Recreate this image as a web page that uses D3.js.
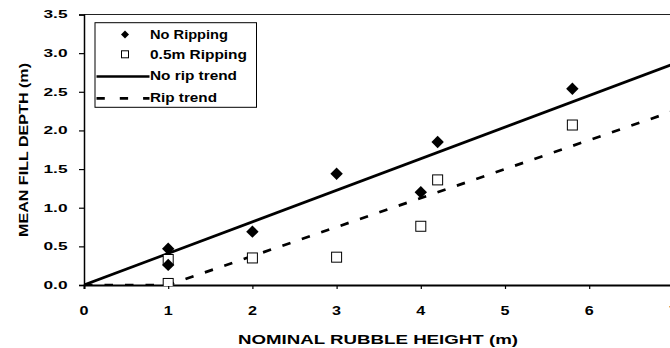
<!DOCTYPE html>
<html><head><meta charset="utf-8">
<script src="https://cdn.jsdelivr.net/npm/d3@7"></script>
<style>
html,body{margin:0;padding:0;background:#fff;}
text{font-family:"Liberation Sans",Arial,sans-serif;font-weight:bold;fill:#000;}
</style></head>
<body><svg id="c" width="670" height="348"></svg>
<script>
// ---- data ----
const xNoRipping = [1, 1, 2, 3, 4, 4.2, 5.8];
const yNoRipping = [0.47, 0.26, 0.69, 1.44, 1.20, 1.85, 2.54];
const xRipping = [1, 1, 2, 3, 4, 4.2, 5.8];
const yRipping = [0.33, 0.02, 0.35, 0.36, 0.76, 1.36, 2.07];
const xNoRipTrend = [0, 7];
const yNoRipTrend = [0, 2.86];
const xRipTrend = [0, 1, 7];
const yRipTrend = [0, 0, 2.25];
const xTicks = [0, 1, 2, 3, 4, 5, 6, 7];
const yTicks = [0, 0.5, 1.0, 1.5, 2.0, 2.5, 3.0, 3.5];
const legendLabels = ["No Ripping", "0.5m Ripping", "No rip trend", "Rip trend"];
const xTitle = "NOMINAL RUBBLE HEIGHT (m)";
const yTitle = "MEAN FILL DEPTH (m)";

const svg = d3.select("#c");
const x = d3.scaleLinear().domain([0, 7]).range([84, 673.4]);
const y = d3.scaleLinear().domain([0, 3.5]).range([285, 14.5]);

// plot border (top)
svg.append("line").attr("x1", 84).attr("x2", 670).attr("y1", 14.5).attr("y2", 14.5)
  .attr("stroke", "#222").attr("stroke-width", 1.2);

// clip
svg.append("clipPath").attr("id", "pc").append("rect")
  .attr("x", 84).attr("y", 14).attr("width", 600).attr("height", 272);

// y axis
const ya = svg.append("g").attr("transform", "translate(84,0)")
  .call(d3.axisLeft(y).tickValues(yTicks).tickSize(5).tickFormat(""));
ya.select(".domain").attr("stroke", "#000").attr("stroke-width", 1.5);
ya.selectAll(".tick line").attr("stroke", "#000").attr("stroke-width", 1.2);
svg.append("g").selectAll("text").data(yTicks).join("text")
  .attr("x", 67.5).attr("y", d => y(d)).attr("dy", "0.36em")
  .attr("text-anchor", "end").attr("font-size", 11)
  .attr("textLength", 24).attr("lengthAdjust", "spacingAndGlyphs")
  .text(d => d3.format(".1f")(d));

// x axis
const xa = svg.append("g").attr("transform", "translate(0,285)")
  .call(d3.axisBottom(x).tickValues(xTicks).tickSize(4).tickFormat(""));
xa.select(".domain").attr("stroke", "#000").attr("stroke-width", 2);
xa.selectAll(".tick line").attr("stroke", "#000").attr("stroke-width", 1.2);
svg.append("g").selectAll("text").data(xTicks).join("text")
  .attr("x", d => x(d)).attr("y", 314.5)
  .attr("text-anchor", "middle").attr("font-size", 13.5)
  .attr("textLength", 9).attr("lengthAdjust", "spacingAndGlyphs")
  .text(d => d);

// titles
svg.append("text").attr("x", 378).attr("y", 344.3).attr("text-anchor", "middle")
  .attr("font-size", 13.5).attr("textLength", 280).attr("lengthAdjust", "spacingAndGlyphs")
  .text(xTitle);
svg.append("text").attr("transform", "translate(27.5,150) rotate(-90)")
  .attr("text-anchor", "middle").attr("font-size", 12)
  .attr("textLength", 174).attr("lengthAdjust", "spacingAndGlyphs")
  .text(yTitle);

// trend lines
const g = svg.append("g").attr("clip-path", "url(#pc)");
const line = d3.line().x(d => x(d[0])).y(d => y(d[1]));
g.append("path").datum(d3.zip(xNoRipTrend, yNoRipTrend)).attr("d", line)
  .attr("fill", "none").attr("stroke", "#000").attr("stroke-width", 2.7);
g.append("path").datum(d3.zip(xRipTrend, yRipTrend)).attr("d", line)
  .attr("fill", "none").attr("stroke", "#000").attr("stroke-width", 2.7)
  .attr("stroke-dasharray", "8.5,12");

// markers
const sq = 10, dm = 6.2;
g.selectAll("rect.rip").data(d3.zip(xRipping, yRipping)).join("rect")
  .attr("x", d => x(d[0]) - sq / 2).attr("y", d => y(d[1]) - sq / 2)
  .attr("width", sq).attr("height", sq)
  .attr("fill", "#fff").attr("stroke", "#000").attr("stroke-width", 1);
const diamond = (cx, cy, r) => `M${cx},${cy - r}L${cx + r},${cy}L${cx},${cy + r}L${cx - r},${cy}Z`;
svg.selectAll("path.norip").data(d3.zip(xNoRipping, yNoRipping)).join("path")
  .attr("d", d => diamond(x(d[0]), y(d[1]), dm)).attr("fill", "#000");

// legend
const lg = svg.append("g");
lg.append("rect").attr("x", 95).attr("y", 22.7).attr("width", 161.5).attr("height", 84.6)
  .attr("fill", "#fff").attr("stroke", "#000").attr("stroke-width", 1);
const rowsY = [34, 54.3, 75.5, 97];
const lens = [78, 97, 87, 67];
lg.selectAll("text").data(legendLabels).join("text")
  .attr("x", 150).attr("y", (d, i) => rowsY[i]).attr("dy", "0.36em")
  .attr("font-size", 12.5).attr("textLength", (d, i) => lens[i]).attr("lengthAdjust", "spacingAndGlyphs")
  .text(d => d);
lg.append("path").attr("d", diamond(125, 34.5, 4)).attr("fill", "#000");
lg.append("rect").attr("x", 121.5).attr("y", 50.8).attr("width", 7).attr("height", 7)
  .attr("fill", "#fff").attr("stroke", "#000").attr("stroke-width", 1);
lg.append("line").attr("x1", 96.5).attr("x2", 149.5).attr("y1", 76.5).attr("y2", 76.5)
  .attr("stroke", "#000").attr("stroke-width", 2.7);
lg.append("line").attr("x1", 96.5).attr("x2", 149.5).attr("y1", 98.3).attr("y2", 98.3)
  .attr("stroke", "#000").attr("stroke-width", 2.7).attr("stroke-dasharray", "8.3,15");
</script></body></html>
